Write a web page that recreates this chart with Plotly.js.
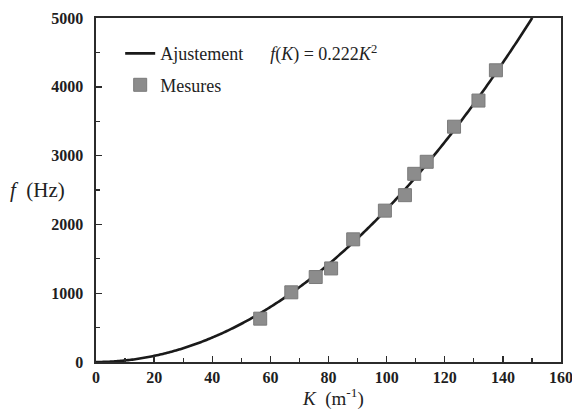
<!DOCTYPE html>
<html>
<head>
<meta charset="utf-8">
<script src="https://cdn.plot.ly/plotly-3.0.1.min.js"></script>
<style>html,body{margin:0;padding:0;background:#fff;}#chart{width:572px;height:412px;}</style>
</head>
<body>
<div id="chart"></div>
<script>
// Measured data points
const measK = [56.5, 67.2, 75.6, 80.9, 88.5, 99.4, 106.3, 109.5, 113.8, 123.2, 131.6, 137.6];
const measF = [630, 1013, 1235, 1360, 1783, 2200, 2425, 2735, 2910, 3420, 3800, 4240];
// Fit coefficient from the legend: f(K) = 0.222 K^2
const fitCoef = 0.222;
const fitKMax = 150.1;
const xTickVals = [0, 20, 40, 60, 80, 100, 120, 140, 160];
const yTickVals = [0, 1000, 2000, 3000, 4000, 5000];

const fitK = [];
const fitF = [];
for (let i = 0; i <= 300; i++) {
  const k = fitKMax * i / 300;
  fitK.push(k);
  fitF.push(fitCoef * k * k);
}

const serif = 'Liberation Serif, Times New Roman, serif';
const axisCommon = {
  showgrid: false, zeroline: false, showline: true, linecolor: '#2b2b2b', linewidth: 1.6,
  mirror: true, ticks: 'inside', ticklen: 6, tickwidth: 1.4, tickcolor: '#2b2b2b',
  ticklabeloverflow: 'allow',
  tickfont: {family: serif, size: 16, color: '#1e1e1e', weight: 'bold'}
};

const traces = [
  {x: fitK, y: fitF, type: 'scatter', mode: 'lines', legendgroup: 'a',
   name: 'Ajustement&nbsp;&nbsp;&nbsp;&nbsp;&nbsp;&nbsp;<i>f</i>(<i>K</i>)&nbsp;=&nbsp;0.222<i>K</i><sup>2</sup>',
   line: {color: '#1a1a1a', width: 2.6, simplify: false}, hoverinfo: 'skip'},
  {x: measK, y: measF, type: 'scatter', mode: 'markers', name: 'Mesures', legendgroup: 'b',
   marker: {symbol: 'square', size: 13, color: '#8c8c8c', line: {color: '#7a7a7a', width: 1}}}
];

const layout = {
  width: 572, height: 412,
  margin: {l: 96, r: 11, t: 18, b: 50},
  paper_bgcolor: '#fff', plot_bgcolor: '#fff',
  showlegend: true,
  legend: {x: 0.052, y: 0.95, xanchor: 'left', yanchor: 'top', bgcolor: 'rgba(0,0,0,0)',
           font: {family: serif, size: 18, color: '#222'}, tracegroupgap: 5, itemwidth: 30},
  xaxis: Object.assign({}, axisCommon, {range: [0, 160], tickvals: xTickVals,
    minor: {dtick: 10, ticks: 'inside', ticklen: 4, tickwidth: 1.2, tickcolor: '#2b2b2b'}}),
  yaxis: Object.assign({}, axisCommon, {range: [0, 5000], tickvals: yTickVals, ticklabelstandoff: 8,
    minor: {dtick: 500, ticks: 'inside', ticklen: 4, tickwidth: 1.2, tickcolor: '#2b2b2b'}}),
  annotations: [
    {xref: 'paper', yref: 'paper', x: -0.19, y: 0.5, xanchor: 'left', yanchor: 'middle', showarrow: false,
     text: '<i>f</i>&nbsp;&nbsp;(Hz)', font: {family: serif, size: 21, color: '#222'}},
    {xref: 'paper', yref: 'paper', x: 0.51, y: -0.102, xanchor: 'center', yanchor: 'middle', showarrow: false,
     text: '<i>K</i>&nbsp;&nbsp;(m<sup>-1</sup>)', font: {family: serif, size: 19, color: '#222'}}
  ]
};

Plotly.newPlot('chart', traces, layout, {displayModeBar: false, staticPlot: true});
</script>
</body>
</html>
